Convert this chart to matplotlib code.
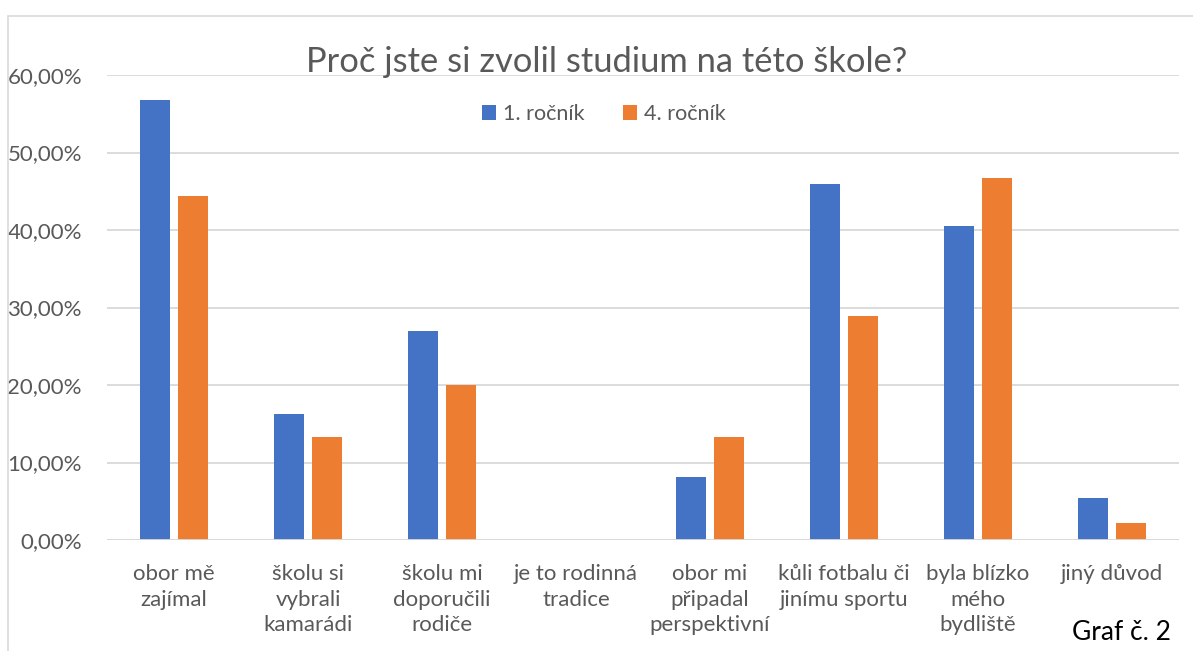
import numpy as np
import matplotlib.pyplot as plt
from matplotlib.patches import Rectangle
from matplotlib.ticker import FuncFormatter

plt.rcParams['font.family'] = ['Lato', 'DejaVu Sans']

kategorie = ["obor mě\nzajímal", "školu si\nvybrali\nkamarádi", "školu mi\ndoporučili\nrodiče",
             "je to rodinná\ntradice", "obor mi\npřipadal\nperspektivní",
             "kůli fotbalu či\njinímu sportu", "byla blízko\nmého\nbydliště", "jiný důvod"]
rocnik1 = [0.5676, 0.1622, 0.2703, 0.0, 0.0811, 0.4595, 0.4054, 0.0541]
rocnik4 = [0.4444, 0.1333, 0.2000, 0.0, 0.1333, 0.2889, 0.4667, 0.0222]

modra = '#4472C4'
oranzova = '#ED7D31'
seda = '#595959'

fig = plt.figure(figsize=(11.93, 6.51), dpi=100)
# ramecek grafu
fig.patches.append(Rectangle((8 / 1193, -0.1), 1.2, 1 - 16 / 651 + 0.1,
                             transform=fig.transFigure, fill=False,
                             edgecolor='#d9d9d9', linewidth=1.2))

ax = fig.add_axes([107 / 1193, 111 / 651, 1072 / 1193, 465 / 651])
x = np.arange(len(kategorie))
sirka = 0.224
ax.bar(x - 0.142, rocnik1, sirka, color=modra, label='1. ročník', zorder=3)
ax.bar(x + 0.142, rocnik4, sirka, color=oranzova, label='4. ročník', zorder=3)

ax.set_xlim(-0.5, len(kategorie) - 0.5)
ax.set_ylim(0, 0.6)
ax.set_yticks(np.arange(0, 0.61, 0.1))
ax.yaxis.set_major_formatter(FuncFormatter(lambda v, p: f"{v * 100:.2f}%".replace('.', ',')))
ax.set_xticks(x)
ax.set_xticklabels(kategorie, fontsize=16, color=seda, linespacing=1.37, va='top')
ax.tick_params(axis='y', labelsize=16, labelcolor=seda, length=0, pad=18)
ax.tick_params(axis='x', length=0, pad=17)
ax.grid(axis='y', color='#d9d9d9', linewidth=1.3, zorder=0)
for s in ax.spines.values():
    s.set_visible(False)
ax.axhline(0, color='#d9d9d9', linewidth=1.3, zorder=4)

fig.text(607 / 1193, 1 - 62 / 651, "Proč jste si zvolil studium na této škole?",
         ha='center', va='center', fontsize=24.8, color=seda)
ax.legend(loc='center', bbox_to_anchor=(604 / 1193, 1 - 114 / 651),
          bbox_transform=fig.transFigure, ncol=2, frameon=False, fontsize=15.5,
          labelcolor=seda, handlelength=0.65, handleheight=0.65, handletextpad=0.3,
          columnspacing=1.8)
fig.text(1121 / 1193, 1 - 632 / 651, "Graf č. 2", ha='center', va='center',
         fontsize=19, color='black')

fig.savefig('out.png', dpi=100)
